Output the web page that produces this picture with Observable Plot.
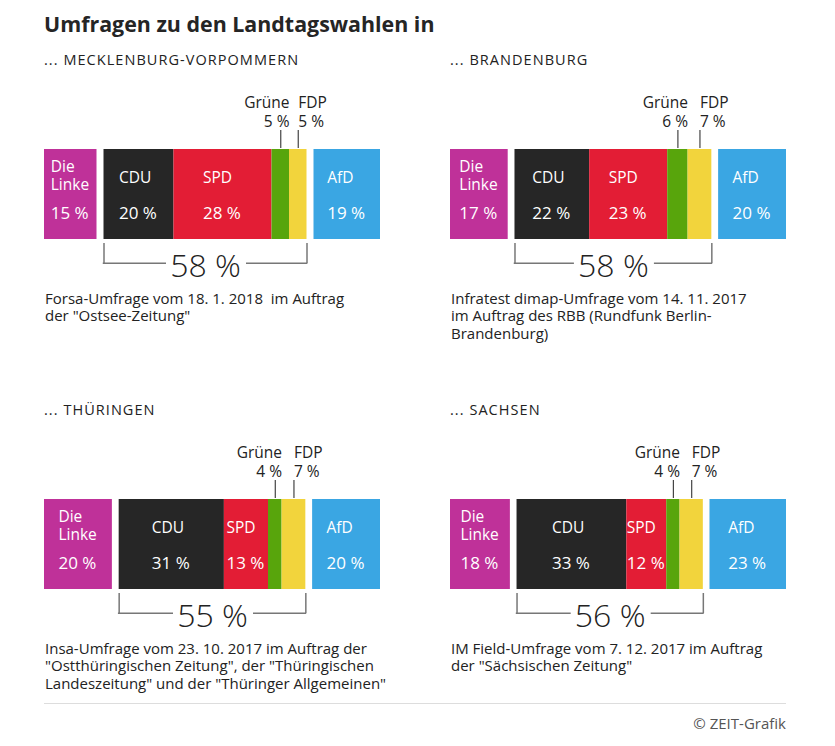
<!DOCTYPE html>
<html>
<head>
<meta charset="utf-8">
<script src="https://cdn.jsdelivr.net/npm/d3@7"></script>
<script src="https://cdn.jsdelivr.net/npm/@observablehq/plot@0.6"></script>
<style>
  html, body { margin: 0; padding: 0; background: #fff; }
  #root { position: relative; width: 835px; height: 746px; font-family: "Open Sans", sans-serif; color: #222; }
  .title { position: absolute; left: 44px; top: 11px; font-size: 21.4px; line-height: 26px; font-weight: 700; color: #252525; white-space: nowrap; }
  .head { position: absolute; font-size: 14.5px; line-height: 16px; letter-spacing: 1.05px; color: #222; white-space: nowrap; }
  .cap { position: absolute; font-size: 15px; line-height: 17.5px; color: #222; white-space: pre; }
  .panel { position: absolute; }
  .rule { position: absolute; left: 44px; top: 703px; width: 742px; height: 1px; background: #ddd; }
  .credit { position: absolute; right: 49px; top: 715px; font-size: 15px; line-height: 17.5px; color: #555; }
</style>
</head>
<body>
<div id="root"></div>
<script>
// ---- data ----
const parties = ["Die Linke", "CDU", "SPD", "Grüne", "FDP", "AfD"];
const partyLabels = ["Die\nLinke", "CDU", "SPD", "Grüne", "FDP", "AfD"];
const partyColors = ["#bf3199", "#262626", "#e31d35", "#58a50c", "#f2d43c", "#3aa6e3"];
const states = ["... MECKLENBURG-VORPOMMERN", "... BRANDENBURG", "... THÜRINGEN", "... SACHSEN"];
const valuesMV = [15, 20, 28, 5, 5, 19];
const valuesBB = [17, 22, 23, 6, 7, 20];
const valuesTH = [20, 31, 13, 4, 7, 20];
const valuesSN = [18, 33, 12, 4, 7, 23];
const captions = [
  "Forsa-Umfrage vom 18. 1. 2018  im Auftrag\nder \"Ostsee-Zeitung\"",
  "Infratest dimap-Umfrage vom 14. 11. 2017\nim Auftrag des RBB (Rundfunk Berlin-\nBrandenburg)",
  "Insa-Umfrage vom 23. 10. 2017 im Auftrag der\n\"Ostthüringischen Zeitung\", der \"Thüringischen\nLandeszeitung\" und der \"Thüringer Allgemeinen\"",
  "IM Field-Umfrage vom 7. 12. 2017 im Auftrag\nder \"Sächsischen Zeitung\""
];
const allValues = [valuesMV, valuesBB, valuesTH, valuesSN];
const GAP = 2; // gap between blocks, in percentage units

// ---- layout ----
const root = document.getElementById("root");
const cols = [44, 450];
const rows = [0, 350];
const W = 360, H = 200, MT = 59, MB = 51, MR = 24;
const FH = H - MT - MB;

function el(cls, text, style) {
  const d = document.createElement("div");
  d.className = cls;
  d.textContent = text;
  Object.assign(d.style, style);
  root.appendChild(d);
  return d;
}

el("title", "Umfragen zu den Landtagswahlen in", {});

function buildRows(values) {
  let x = 0;
  return values.map((v, i) => {
    if (i === 1 || i === 5) x += GAP;
    const r = {party: parties[i], label: partyLabels[i], value: v, x1: x, x2: x + v, mid: x + v / 2, index: i};
    x += v;
    return r;
  });
}

allValues.forEach((values, k) => {
  const left = cols[k % 2], dy = rows[Math.floor(k / 2)];
  el("head", states[k], {left: left + "px", top: (52 + dy) + "px"});
  el("cap", captions[k], {left: (left + 1) + "px", top: (289.5 + dy) + "px"});

  const data = buildRows(values);
  const total = d3.max(data, d => d.x2);
  const coalition = data.filter(d => d.index >= 1 && d.index <= 4);
  const cStart = coalition[0].x1, cEnd = coalition[3].x2, cMid = (cStart + cEnd) / 2;
  const cSum = d3.sum(coalition, d => d.value);
  const small = data.filter(d => d.party === "Grüne" || d.party === "FDP");
  const inBar = data.filter(d => d.index !== 3 && d.index !== 4);

  const chart = Plot.plot({
    width: W, height: H,
    marginTop: MT, marginBottom: MB, marginLeft: 0, marginRight: MR,
    x: {domain: [0, total], axis: null},
    color: {domain: parties, range: partyColors},
    style: {fontFamily: "Open Sans, sans-serif", overflow: "visible"},
    marks: [
      Plot.barX(data, {x1: "x1", x2: "x2", fill: "party"}),
      // leader ticks for Grüne / FDP
      Plot.ruleX(small, {x: "mid", stroke: "#444", strokeWidth: 1.2, insetTop: -19, insetBottom: FH + 1}),
      Plot.text(small.filter(d => d.party === "Grüne"), {x: "x2", text: d => `${d.party}\n${d.value} %`, frameAnchor: "top", dy: -22.6, lineAnchor: "bottom", textAnchor: "end", lineHeight: 1.19, fontSize: 15.5, fill: "#222"}),
      Plot.text(small.filter(d => d.party === "FDP"), {x: "mid", text: d => `${d.party}\n${d.value} %`, frameAnchor: "top", dy: -22.6, lineAnchor: "bottom", textAnchor: "start", lineHeight: 1.19, fontSize: 15.5, fill: "#222"}),
      // in-bar labels
      Plot.text(inBar.filter(d => d.index !== 0), {x: "mid", text: "label", frameAnchor: "top", dy: 33.4, dx: -20, lineAnchor: "bottom", textAnchor: "start", fontSize: 15.5, fill: "white"}),
      Plot.text(inBar.filter(d => d.index === 0), {x: "mid", text: "label", frameAnchor: "top", dy: 40, dx: -20, lineAnchor: "bottom", textAnchor: "start", lineHeight: 1.14, fontSize: 15.5, fill: "white"}),
      Plot.text(inBar, {x: "mid", text: d => `${d.value} %`, frameAnchor: "top", dy: 69.5, dx: -20, lineAnchor: "bottom", textAnchor: "start", fontSize: 17, fill: "white"}),
      // bracket
      Plot.ruleX([cStart, cEnd], {x: d => d, stroke: "#777", strokeWidth: 1.5, insetTop: FH + 4, insetBottom: -24.3}),
      Plot.barX([{x1: cStart, x2: cMid}], {x1: "x1", x2: "x2", fill: "#777", insetTop: FH + 23.5, insetBottom: -25, insetLeft: -0.75, insetRight: 39}),
      Plot.barX([{x1: cMid, x2: cEnd}], {x1: "x1", x2: "x2", fill: "#777", insetTop: FH + 23.5, insetBottom: -25, insetLeft: 41, insetRight: -0.75}),
      Plot.text([cSum], {x: cMid, text: d => `${d} %`, frameAnchor: "bottom", dy: 37.7, lineAnchor: "bottom", fontSize: 32, fontWeight: 300, fill: "#222"})
    ]
  });
  chart.classList.add("panel");
  chart.style.left = left + "px";
  chart.style.top = (90 + dy) + "px";
  root.appendChild(chart);
});

el("rule", "", {});
el("credit", "© ZEIT-Grafik", {});
</script>
</body>
</html>
